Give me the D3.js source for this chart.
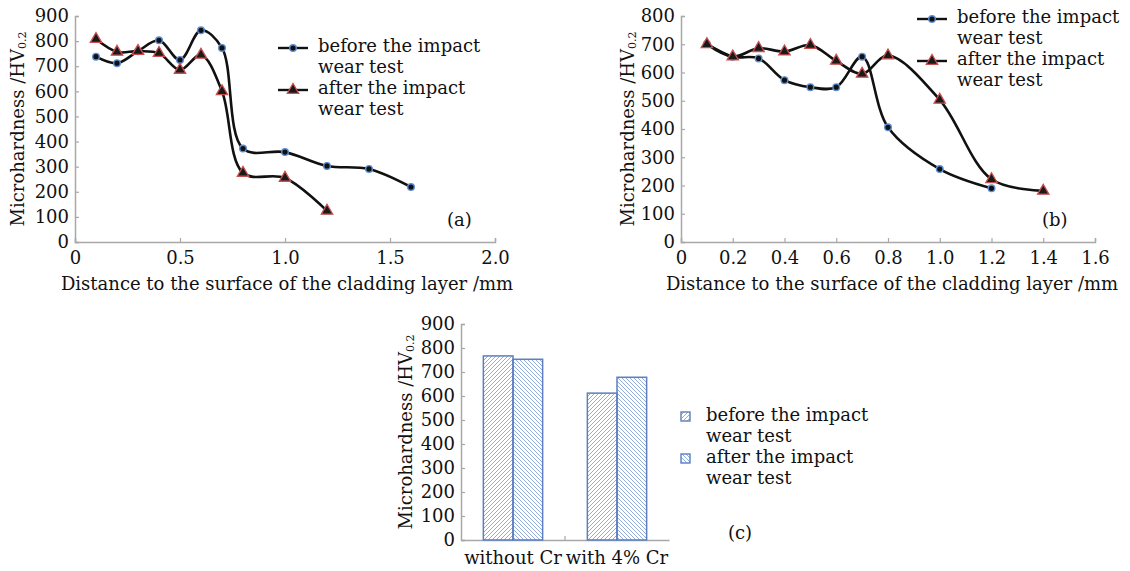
<!DOCTYPE html>
<html>
<head>
<meta charset="utf-8">
<script src="https://cdnjs.cloudflare.com/ajax/libs/d3/7.8.5/d3.min.js"></script>
<style>
  body { margin: 0; background: #fff; }
  svg { display: block; font-family: "DejaVu Serif", serif; }
</style>
</head>
<body>
<svg id="chart" width="1130" height="571"></svg>
<script>
// panel (a)
const distA_before = [0.1, 0.2, 0.3, 0.4, 0.5, 0.6, 0.7, 0.8, 1.0, 1.2, 1.4, 1.6];
const hvA_before = [738, 712, 760, 803, 725, 843, 773, 372, 358, 303, 291, 219];
const distA_after = [0.1, 0.2, 0.3, 0.4, 0.5, 0.6, 0.7, 0.8, 1.0, 1.2];
const hvA_after = [808, 757, 760, 752, 685, 745, 600, 275, 255, 124];
const ticksA_x = [0, 0.5, 1.0, 1.5, 2.0];

// panel (b)
const distB_before = [0.1, 0.2, 0.3, 0.4, 0.5, 0.6, 0.7, 0.8, 1.0, 1.2];
const hvB_before = [701, 656, 650, 573, 548, 548, 656, 406, 258, 190];
const distB_after = [0.1, 0.2, 0.3, 0.4, 0.5, 0.6, 0.7, 0.8, 1.0, 1.2, 1.4];
const hvB_after = [700, 656, 686, 674, 697, 641, 595, 660, 503, 222, 181];
const ticksB_x = [0, 0.2, 0.4, 0.6, 0.8, 1.0, 1.2, 1.4, 1.6];

// panel (c)
const groupsC = ["without Cr", "with 4% Cr"];
const hvC_before = [767, 612];
const hvC_after = [753, 678];

const legendLabels = [["before the impact", "wear test"], ["after the impact", "wear test"]];
const yTitle = "Microhardness /HV";
const xTitle = "Distance to the surface of the cladding layer /mm";

const svg = d3.select("#chart");
const axisColor = "#a8a8a8";
const fs = 18;

const defs = svg.append("defs");
function hatch(id, d) {
  defs.append("pattern")
    .attr("id", id)
    .attr("patternUnits", "userSpaceOnUse")
    .attr("width", 4)
    .attr("height", 4)
    .append("path")
    .attr("d", d)
    .attr("stroke", "#7a98d0")
    .attr("stroke-width", 0.8);
}
hatch("hatchBefore", "M-1,1 l2,-2 M0,4 l4,-4 M3,5 l2,-2");
hatch("hatchAfter", "M-1,3 l2,2 M0,0 l4,4 M3,-1 l2,2");

function styleAxis(g) {
  g.attr("font-family", null).attr("font-size", fs);
  g.select(".domain").attr("stroke", axisColor).attr("stroke-width", 1.5);
  g.selectAll(".tick line").attr("stroke", axisColor).attr("stroke-width", 1.2);
  g.selectAll(".tick text").attr("fill", "#111");
}

function yAxisTitle(cx, cy) {
  const t = svg.append("text")
    .attr("transform", `translate(${cx},${cy}) rotate(-90)`)
    .attr("text-anchor", "middle")
    .attr("dominant-baseline", "central")
    .attr("font-size", fs)
    .attr("fill", "#111");
  t.append("tspan").text(yTitle);
  t.append("tspan").attr("font-size", 11).attr("dy", 5).text("0.2");
}

function twoLine(x, y, lines) {
  const t = svg.append("text")
    .attr("x", x).attr("y", y)
    .attr("font-size", fs)
    .attr("fill", "#111");
  lines.forEach((s, i) => {
    t.append("tspan").attr("x", x).attr("dy", i === 0 ? 0 : 21).text(s);
  });
}

function drawMarker(g, kind, px, py) {
  if (kind === "circle") {
    g.append("circle")
      .attr("cx", px).attr("cy", py).attr("r", 3.3)
      .attr("fill", "#111").attr("stroke", "#5b8fd6").attr("stroke-width", 1.4);
  } else {
    g.append("path")
      .attr("d", d3.symbol(d3.symbolTriangle, 56)())
      .attr("transform", `translate(${px},${py})`)
      .attr("fill", "#1a1a1a").attr("stroke", "#c9504f").attr("stroke-width", 1.3);
  }
}

function linePanel(cfg) {
  const x = d3.scaleLinear().domain(cfg.xDomain).range(cfg.xRange);
  const y = d3.scaleLinear().domain(cfg.yDomain).range(cfg.yRange);

  svg.append("g")
    .attr("transform", `translate(0,${cfg.yRange[0]})`)
    .call(d3.axisBottom(x).tickValues(cfg.xTicks).tickSize(-4).tickPadding(9)
      .tickFormat((d) => (d === 0 ? "0" : d3.format(".1f")(d))))
    .call(styleAxis);

  svg.append("g")
    .attr("transform", `translate(${cfg.xRange[0]},0)`)
    .call(d3.axisLeft(y).ticks(cfg.yDomain[1] / 100).tickSize(-4).tickPadding(6))
    .call(styleAxis);

  const line = d3.line()
    .x((d) => x(d[0]))
    .y((d) => y(d[1]))
    .curve(d3.curveCatmullRom.alpha(0.5));

  cfg.series.forEach((s) => {
    const pts = d3.zip(s.xs, s.ys);
    svg.append("path")
      .datum(pts)
      .attr("d", line)
      .attr("fill", "none")
      .attr("stroke", "#111")
      .attr("stroke-width", 2.6);
    const g = svg.append("g");
    pts.forEach((p) => drawMarker(g, s.marker, x(p[0]), y(p[1])));
  });

  // legend
  const lg = svg.append("g");
  cfg.series.forEach((s, i) => {
    const ly = cfg.legend.y + i * 42;
    lg.append("line")
      .attr("x1", cfg.legend.x).attr("x2", cfg.legend.x + 30)
      .attr("y1", ly).attr("y2", ly)
      .attr("stroke", "#111").attr("stroke-width", 2.4);
    drawMarker(lg, s.marker, cfg.legend.x + 15, ly);
    twoLine(cfg.legend.x + 40, ly + 4, legendLabels[i]);
  });

  svg.append("text")
    .attr("x", cfg.tag[0]).attr("y", cfg.tag[1])
    .attr("font-size", fs).attr("fill", "#111")
    .text(cfg.tagText);

  svg.append("text")
    .attr("x", cfg.xTitle[0]).attr("y", cfg.xTitle[1])
    .attr("text-anchor", "middle")
    .attr("font-size", fs).attr("fill", "#111")
    .text(xTitle);

  yAxisTitle(cfg.yTitleX, (cfg.yRange[0] + cfg.yRange[1]) / 2);
}

linePanel({
  xDomain: [0, 2], xRange: [75, 495],
  yDomain: [0, 900], yRange: [242, 16],
  xTicks: ticksA_x,
  series: [
    { xs: distA_before, ys: hvA_before, marker: "circle" },
    { xs: distA_after, ys: hvA_after, marker: "triangle" }
  ],
  legend: { x: 278, y: 48 },
  tag: [447, 226], tagText: "(a)",
  xTitle: [287, 290],
  yTitleX: 17
});

linePanel({
  xDomain: [0, 1.6], xRange: [681, 1095],
  yDomain: [0, 800], yRange: [242, 16],
  xTicks: ticksB_x,
  series: [
    { xs: distB_before, ys: hvB_before, marker: "circle" },
    { xs: distB_after, ys: hvB_after, marker: "triangle" }
  ],
  legend: { x: 917, y: 19 },
  tag: [1042, 226], tagText: "(b)",
  xTitle: [892, 290],
  yTitleX: 627
});

// panel (c) bars
const xC = d3.scaleBand().domain(groupsC).range([461, 669]).paddingInner(0.43).paddingOuter(0.215);
const yC = d3.scaleLinear().domain([0, 900]).range([540, 324]);
const xSub = d3.scaleBand().domain(["before", "after"]).range([0, xC.bandwidth()]);

const bandEdges = d3.scaleBand().domain(groupsC).range([461, 669]);
const xAxisC = svg.append("g")
  .attr("transform", "translate(0,540)")
  .call(d3.axisBottom(bandEdges).tickSize(0).tickPadding(11))
  .call(styleAxis);
xAxisC.selectAll(".tick line").remove();
xAxisC.append("line")
  .attr("x1", bandEdges("with 4% Cr")).attr("x2", bandEdges("with 4% Cr"))
  .attr("y1", 0).attr("y2", -4)
  .attr("stroke", axisColor).attr("stroke-width", 1.2);

svg.append("g")
  .attr("transform", "translate(461,0)")
  .call(d3.axisLeft(yC).ticks(9).tickSize(-4).tickPadding(6))
  .call(styleAxis);

const barRows = groupsC.map((g, i) => ({ g, before: hvC_before[i], after: hvC_after[i] }));
barRows.forEach((r) => {
  [["before", "hatchBefore"], ["after", "hatchAfter"]].forEach(([k, pat]) => {
    svg.append("rect")
      .attr("x", xC(r.g) + xSub(k))
      .attr("y", yC(r[k]))
      .attr("width", xSub.bandwidth())
      .attr("height", yC(0) - yC(r[k]))
      .attr("fill", `url(#${pat})`)
      .attr("stroke", "#5b7fc0")
      .attr("stroke-width", 1.5);
  });
});

["hatchBefore", "hatchAfter"].forEach((pat, i) => {
  svg.append("rect")
    .attr("x", 681).attr("y", 412 + i * 42)
    .attr("width", 9).attr("height", 9)
    .attr("fill", `url(#${pat})`)
    .attr("stroke", "#5b7fc0").attr("stroke-width", 1.4);
  twoLine(706, 421 + i * 42, legendLabels[i]);
});

svg.append("text")
  .attr("x", 728).attr("y", 539)
  .attr("font-size", fs).attr("fill", "#111")
  .text("(c)");

yAxisTitle(405, 432);
</script>
</body>
</html>
